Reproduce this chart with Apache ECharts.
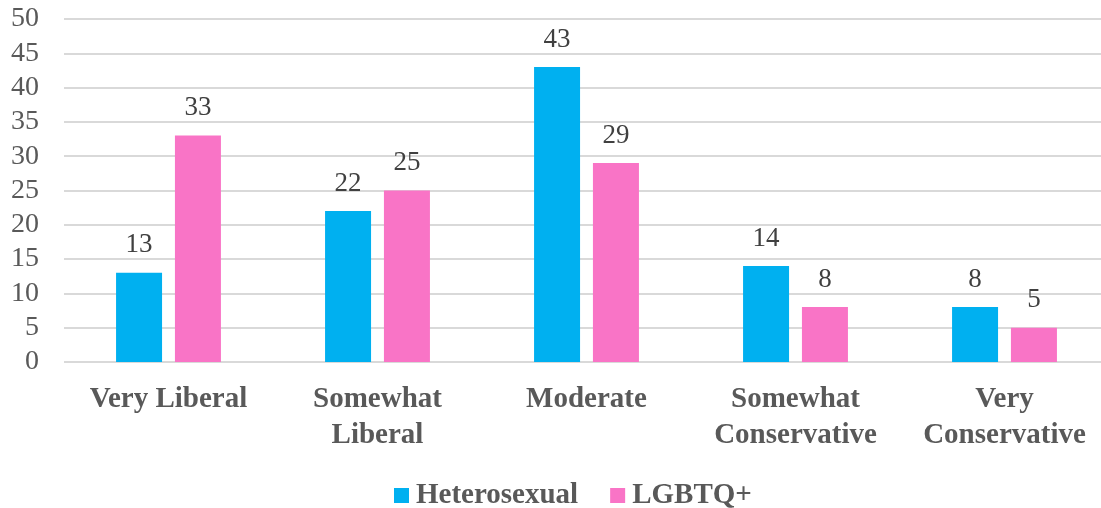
<!DOCTYPE html>
<html>
<head>
<meta charset="utf-8">
<script src="https://cdn.jsdelivr.net/npm/echarts@6/dist/echarts.min.js"></script>
<style>
  html, body { margin: 0; padding: 0; background: #fff; }
  #chart { width: 1101px; height: 508px; }
</style>
</head>
<body>
<div id="chart"></div>
<script>
var categories = ['Very Liberal', 'Somewhat\nLiberal', 'Moderate', 'Somewhat\nConservative', 'Very\nConservative'];
var heterosexual = [13, 22, 43, 14, 8];
var lgbtq = [33, 25, 29, 8, 5];
var yTicks = { min: 0, max: 50, step: 5 };

var serif = '"Liberation Serif", "Times New Roman", "DejaVu Serif", serif';

var chart = echarts.init(document.getElementById('chart'));

var labelStyle = {
    show: true,
    position: 'top',
    distance: 14,
    fontFamily: serif,
    fontSize: 27,
    color: '#404040'
};

var option = {
    animation: false,
    grid: {
        left: 64,
        top: 19,
        width: 1045,
        bottom: 146,
        outerBoundsMode: 'none'
    },
    legend: {
        bottom: -7,
        left: 389,
        itemWidth: 15,
        itemHeight: 15,
        itemGap: 32,
        icon: 'rect',
        textStyle: {
            fontFamily: serif,
            fontWeight: 'bold',
            fontSize: 29,
            color: '#595959',
            padding: [0, 0, 0, 2]
        },
        data: ['Heterosexual', 'LGBTQ+']
    },
    xAxis: {
        type: 'category',
        data: categories,
        axisLine: { show: false },
        axisTick: { show: false },
        axisLabel: {
            margin: 20,
            interval: 0,
            fontFamily: serif,
            fontWeight: 'bold',
            fontSize: 29,
            lineHeight: 36,
            color: '#595959'
        }
    },
    yAxis: {
        type: 'value',
        min: yTicks.min,
        max: yTicks.max,
        interval: yTicks.step,
        axisLine: { show: false },
        axisTick: { show: false },
        splitLine: { lineStyle: { color: '#d9d9d9', width: 2 } },
        axisLabel: {
            margin: 25,
            fontFamily: serif,
            fontSize: 28,
            color: '#595959'
        }
    },
    series: [
        {
            name: 'Heterosexual',
            type: 'bar',
            data: heterosexual,
            barWidth: 46,
            barGap: '28%',
            itemStyle: { color: '#00B0F0' },
            label: labelStyle
        },
        {
            name: 'LGBTQ+',
            type: 'bar',
            data: lgbtq,
            barWidth: 46,
            barGap: '28%',
            itemStyle: { color: '#F974C6' },
            label: labelStyle
        }
    ]
};

chart.setOption(option);
</script>
</body>
</html>
